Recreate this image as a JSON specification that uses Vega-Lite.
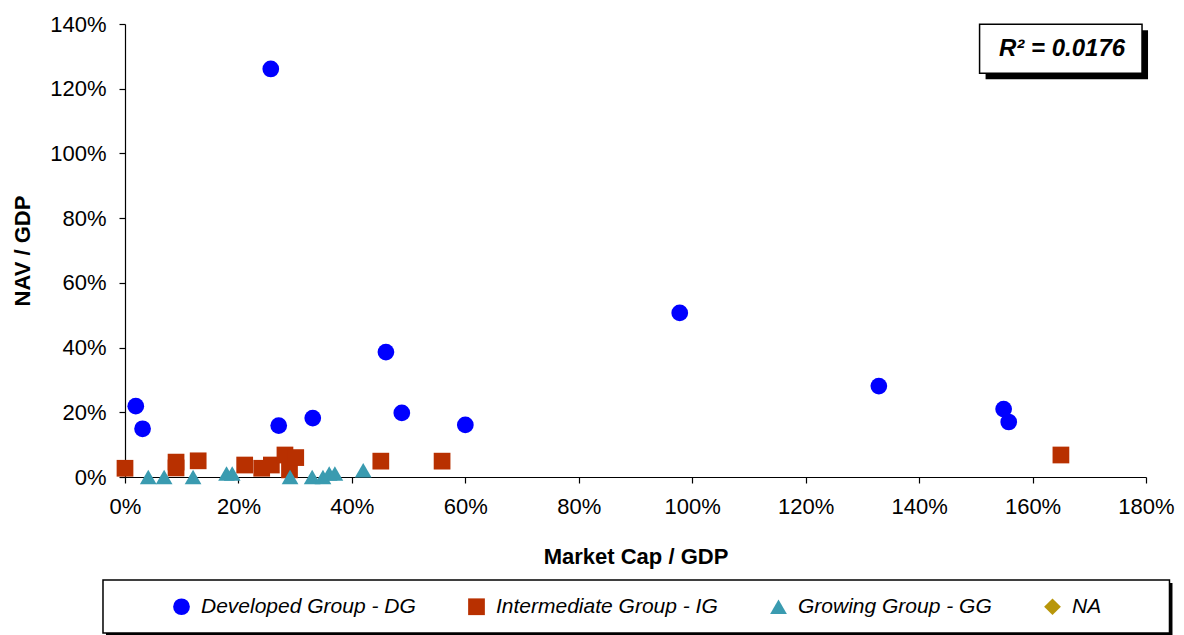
{
  "$schema": "https://vega.github.io/schema/vega-lite/v6.json",
  "width": 1021,
  "height": 453,
  "autosize": {"type": "none"},
  "padding": {"left": 125, "top": 24, "right": 38, "bottom": 158},
  "background": "white",
  "config": {
    "view": {"stroke": null},
    "font": "Liberation Sans",
    "axis": {
      "grid": false,
      "domainColor": "black",
      "domainWidth": 1.2,
      "tickColor": "black",
      "tickWidth": 1.2,
      "tickSize": 6,
      "labelFont": "Liberation Sans",
      "labelFontSize": 22,
      "labelColor": "black",
      "labelFlush": false,
      "labelOverlap": false,
      "titleFont": "Liberation Sans",
      "titleFontSize": 22,
      "titleFontWeight": "bold",
      "titleColor": "black"
    }
  },
  "datasets": {
    "countries": [
      {"group": "Developed Group - DG", "mcap": 0.019, "nav": 0.219},
      {"group": "Developed Group - DG", "mcap": 0.031, "nav": 0.149},
      {"group": "Developed Group - DG", "mcap": 0.257, "nav": 1.261},
      {"group": "Developed Group - DG", "mcap": 0.271, "nav": 0.159},
      {"group": "Developed Group - DG", "mcap": 0.331, "nav": 0.182},
      {"group": "Developed Group - DG", "mcap": 0.46, "nav": 0.386},
      {"group": "Developed Group - DG", "mcap": 0.488, "nav": 0.198},
      {"group": "Developed Group - DG", "mcap": 0.6, "nav": 0.161},
      {"group": "Developed Group - DG", "mcap": 0.978, "nav": 0.507},
      {"group": "Developed Group - DG", "mcap": 1.329, "nav": 0.281},
      {"group": "Developed Group - DG", "mcap": 1.549, "nav": 0.21},
      {"group": "Developed Group - DG", "mcap": 1.558, "nav": 0.17},
      {"group": "Intermediate Group - IG", "mcap": 0.0, "nav": 0.027},
      {"group": "Intermediate Group - IG", "mcap": 0.09, "nav": 0.046},
      {"group": "Intermediate Group - IG", "mcap": 0.09, "nav": 0.028},
      {"group": "Intermediate Group - IG", "mcap": 0.129, "nav": 0.05},
      {"group": "Intermediate Group - IG", "mcap": 0.211, "nav": 0.037},
      {"group": "Intermediate Group - IG", "mcap": 0.241, "nav": 0.027},
      {"group": "Intermediate Group - IG", "mcap": 0.258, "nav": 0.037},
      {"group": "Intermediate Group - IG", "mcap": 0.282, "nav": 0.068},
      {"group": "Intermediate Group - IG", "mcap": 0.29, "nav": 0.022},
      {"group": "Intermediate Group - IG", "mcap": 0.301, "nav": 0.06},
      {"group": "Intermediate Group - IG", "mcap": 0.451, "nav": 0.049},
      {"group": "Intermediate Group - IG", "mcap": 0.559, "nav": 0.049},
      {"group": "Intermediate Group - IG", "mcap": 1.65, "nav": 0.068},
      {"group": "Growing Group - GG", "mcap": 0.041, "nav": 0.0},
      {"group": "Growing Group - GG", "mcap": 0.069, "nav": 0.0},
      {"group": "Growing Group - GG", "mcap": 0.12, "nav": 0.0},
      {"group": "Growing Group - GG", "mcap": 0.179, "nav": 0.011},
      {"group": "Growing Group - GG", "mcap": 0.189, "nav": 0.011},
      {"group": "Growing Group - GG", "mcap": 0.291, "nav": 0.0},
      {"group": "Growing Group - GG", "mcap": 0.33, "nav": 0.0},
      {"group": "Growing Group - GG", "mcap": 0.349, "nav": 0.0},
      {"group": "Growing Group - GG", "mcap": 0.36, "nav": 0.011},
      {"group": "Growing Group - GG", "mcap": 0.37, "nav": 0.011},
      {"group": "Growing Group - GG", "mcap": 0.42, "nav": 0.021}
    ],
    "fit": [{"label": "R² = 0.0176"}]
  },
  "layer": [
    {
      "data": {"name": "fit"},
      "mark": {"type": "rect", "color": "black", "xOffset": 3, "x2Offset": 3, "yOffset": 3, "y2Offset": 3},
      "encoding": {
        "x": {"datum": -0.0388},
        "x2": {"datum": 1.8414},
        "y": {"datum": -0.318},
        "y2": {"datum": -0.482}
      }
    },
    {
      "data": {"name": "fit"},
      "mark": {"type": "rect", "fill": "white", "stroke": "black", "strokeWidth": 1.5},
      "encoding": {
        "x": {"datum": -0.0388},
        "x2": {"datum": 1.8414},
        "y": {"datum": -0.318},
        "y2": {"datum": -0.482}
      }
    },
    {
      "data": {"name": "fit"},
      "mark": {"type": "rect", "color": "black", "xOffset": 6, "x2Offset": 6, "yOffset": 6, "y2Offset": 6},
      "encoding": {
        "x": {"datum": 1.5066},
        "x2": {"datum": 1.793},
        "y": {"datum": 1.399},
        "y2": {"datum": 1.2475}
      }
    },
    {
      "data": {"name": "fit"},
      "mark": {"type": "rect", "fill": "white", "stroke": "black", "strokeWidth": 1.5},
      "encoding": {
        "x": {"datum": 1.5066},
        "x2": {"datum": 1.793},
        "y": {"datum": 1.399},
        "y2": {"datum": 1.2475}
      }
    },
    {
      "data": {"name": "fit"},
      "mark": {"type": "text", "font": "Liberation Sans", "fontSize": 24, "fontWeight": "bold", "fontStyle": "italic", "color": "black", "align": "center", "baseline": "middle"},
      "encoding": {
        "x": {"datum": 1.652},
        "y": {"datum": 1.323},
        "text": {"field": "label"}
      }
    },
    {
      "data": {"name": "countries"},
      "mark": {"type": "point", "filled": true, "opacity": 1, "size": 280, "strokeWidth": 0},
      "encoding": {
        "x": {
          "field": "mcap",
          "type": "quantitative",
          "scale": {"domain": [0, 1.8], "nice": false},
          "axis": {
            "title": "Market Cap / GDP",
            "values": [0, 0.2, 0.4, 0.6, 0.8, 1.0, 1.2, 1.4, 1.6, 1.8],
            "format": ".0%",
            "labelPadding": 13,
            "titleY": 86,
            "titleBaseline": "alphabetic"
          }
        },
        "y": {
          "field": "nav",
          "type": "quantitative",
          "scale": {"domain": [0, 1.4], "nice": false},
          "axis": {
            "title": "NAV / GDP",
            "values": [0, 0.2, 0.4, 0.6, 0.8, 1.0, 1.2, 1.4],
            "format": ".0%",
            "labelPadding": 13,
            "titleAngle": -90,
            "titleX": -96,
            "titleY": 226.5,
            "titleAlign": "center",
            "titleBaseline": "alphabetic"
          }
        },
        "color": {
          "field": "group",
          "type": "nominal",
          "scale": {
            "domain": ["Developed Group - DG", "Intermediate Group - IG", "Growing Group - GG", "NA"],
            "range": ["#0000FF", "#B83000", "#3A9BB0", "#B8960A"]
          },
          "legend": {
            "title": null,
            "orient": "none",
            "legendX": 46,
            "legendY": 572,
            "direction": "horizontal",
            "columns": 4,
            "columnPadding": 50,
            "padding": 0,
            "labelFont": "Liberation Sans",
            "labelFontSize": 21,
            "labelFontStyle": "italic",
            "labelColor": "black",
            "labelLimit": 400,
            "labelOffset": 9,
            "symbolSize": 280,
            "symbolStrokeWidth": 0
          }
        },
        "shape": {
          "field": "group",
          "type": "nominal",
          "scale": {
            "domain": ["Developed Group - DG", "Intermediate Group - IG", "Growing Group - GG", "NA"],
            "range": ["circle", "square", "triangle-up", "diamond"]
          }
        }
      }
    }
  ]
}
